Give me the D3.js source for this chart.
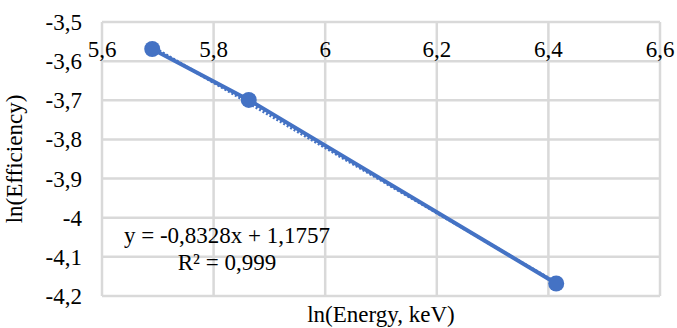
<!DOCTYPE html>
<html>
<head>
<meta charset="utf-8">
<script src="https://cdn.jsdelivr.net/npm/d3@7"></script>
<style>
	body { margin: 0; background: #fff; }
	svg { font-family: "Times New Roman", "Liberation Serif", Tinos, "Noto Serif", "DejaVu Serif", FreeSerif, serif; font-size: 23px; }
</style>
</head>
<body>
<div id="graph"></div>
<script>
	let lnEnergy = [5.69, 5.863, 6.414];
	let lnEfficiency = [-3.569, -3.699, -4.168];

	let xTicks = [5.6, 5.8, 6, 6.2, 6.4, 6.6];
	let yTicks = [-3.5, -3.6, -3.7, -3.8, -3.9, -4, -4.1, -4.2];

	let slope = -0.8328;
	let intercept = 1.1757;
	let equationLabel = 'y = -0,8328x + 1,1757';
	let r2Label = 'R² = 0,999';

	let margin = {
		top: 22,
		right: 17,
		bottom: 32,
		left: 102
	};

	let width  = 677 - margin.left - margin.right;
	let height = 328 - margin.top  - margin.bottom;

	let x = d3.scaleLinear().domain([5.6, 6.6]).range([0, width]);
	let y = d3.scaleLinear().domain([-4.2, -3.5]).range([height, 0]);

	let fmt = (d) => String(d).replace('.', ',');

	let svg = d3.select('#graph')
		.append('svg')
			.attr('width', 677)
			.attr('height', 328)
		.append('g')
			.attr('transform', "translate(" + margin.left + ", " + margin.top + ")");

	// grid
	svg.append('g')
		.selectAll('line')
		.data(yTicks)
		.join('line')
			.attr('x1', 0)
			.attr('x2', width)
			.attr('y1', (d) => y(d))
			.attr('y2', (d) => y(d))
			.attr('stroke', '#d9d9d9')
			.attr('stroke-width', 2.5);

	svg.append('g')
		.selectAll('line')
		.data(xTicks)
		.join('line')
			.attr('x1', (d) => x(d))
			.attr('x2', (d) => x(d))
			.attr('y1', 0)
			.attr('y2', height)
			.attr('stroke', '#d9d9d9')
			.attr('stroke-width', 2.5);

	// x tick labels sit just under the top gridline
	svg.append('g')
		.selectAll('text')
		.data(xTicks)
		.join('text')
			.attr('x', (d) => x(d))
			.attr('y', 35)
			.attr('text-anchor', 'middle')
			.text(fmt);

	svg.append('g')
		.selectAll('text')
		.data(yTicks)
		.join('text')
			.attr('x', -20)
			.attr('y', (d) => y(d) + 8)
			.attr('text-anchor', 'end')
			.text(fmt);

	let color = '#4472c4';

	// trendline
	let trendX = d3.extent(lnEnergy);
	svg.append('path')
		.attr('d', d3.line()
			.x((d) => x(d))
			.y((d) => y(slope * d + intercept))(trendX))
		.attr('fill', 'none')
		.attr('stroke', color)
		.attr('stroke-width', 3)
		.attr('stroke-dasharray', '2,2');

	let pts = lnEnergy.map((d, i) => ({ x: d, y: lnEfficiency[i] }));

	svg.append('path')
		.attr('d', d3.line()
			.x((d) => x(d.x))
			.y((d) => y(d.y))(pts))
		.attr('fill', 'none')
		.attr('stroke', color)
		.attr('stroke-width', 4);

	svg.append('g')
		.selectAll('circle')
		.data(pts)
		.join('circle')
			.attr('cx', (d) => x(d.x))
			.attr('cy', (d) => y(d.y))
			.attr('r', 8)
			.attr('fill', color);

	svg.append('text')
		.attr('x', 125)
		.attr('y', 221)
		.attr('text-anchor', 'middle')
		.text(equationLabel);

	svg.append('text')
		.attr('x', 125)
		.attr('y', 248)
		.attr('text-anchor', 'middle')
		.text(r2Label);

	svg.append('text')
		.attr('x', width / 2)
		.attr('y', height + 26)
		.attr('text-anchor', 'middle')
		.text('ln(Energy, keV)');

	svg.append('text')
		.attr('transform', 'rotate(-90)')
		.attr('x', -height / 2)
		.attr('y', -80)
		.attr('text-anchor', 'middle')
		.text('ln(Efficiency)');
</script>
</body>
</html>
